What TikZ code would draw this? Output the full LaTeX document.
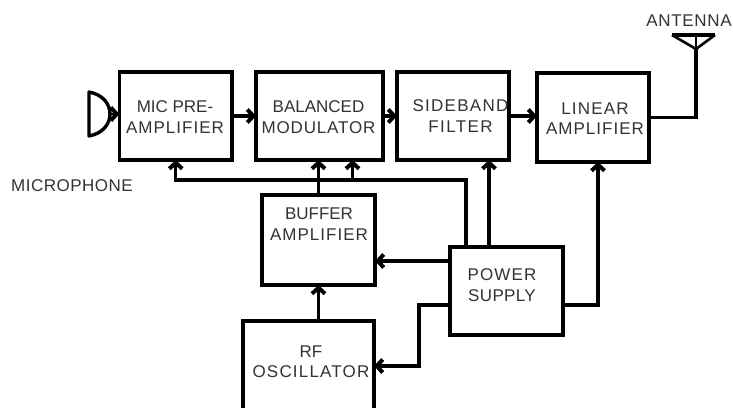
\documentclass[tikz,border=0pt]{standalone}
\usepackage{fontspec}
\setmainfont{Liberation Sans}
\usetikzlibrary{arrows.meta}
\newcommand{\spc}[2]{{\addfontfeature{LetterSpace=#1}#2}}
\tikzset{
  x=1pt,y=-1pt,
  box/.style={draw=black,line width=3.6pt,fill=white,rectangle,outer sep=0pt,inner sep=0pt},
  lbl/.style={inner sep=0pt,align=center,text=black!80,font=\fontsize{17}{20.5}\selectfont},
  wire/.style={draw=black,line width=3.2pt,-{Straight Barb[length=6pt,width=13pt,line width=4pt]}},
  plain/.style={draw=black,line width=3.2pt},
}
\begin{document}
\begin{tikzpicture}
\useasboundingbox (0,0) rectangle (733,407);
\fill[white] (0,0) rectangle (733,407);
% blocks
\node[box,minimum width=112.5pt,minimum height=88pt] (mic) at (175.75,116) {};
\node[box,minimum width=127pt,minimum height=88pt] (bal) at (319.5,116) {};
\node[box,minimum width=112pt,minimum height=88pt] (side) at (453,116) {};
\node[box,minimum width=112pt,minimum height=89pt] (lin) at (593,117.5) {};
\node[box,minimum width=113pt,minimum height=90pt] (buf) at (318.5,240) {};
\node[box,minimum width=131pt,minimum height=100pt] (rf) at (308.5,371) {};
\node[box,minimum width=113pt,minimum height=88pt] (pow) at (506.5,291) {};
% texts
\node[lbl] (micT) at (175,117) {MIC PRE-\\\spc{6}{AMPLIFIER}};
\node[lbl] (balT) at (318.5,117) {BALANCED\\\spc{5}{MODULATOR}};
\node[lbl] (sideT) at (460.5,116) {\spc{7.5}{SIDEBAND}\\\spc{8}{FILTER}};
\node[lbl] (linT) at (595,118.5) {\spc{7}{LINEAR}\\\spc{6}{AMPLIFIER}};
\node[lbl] (bufT) at (319,224) {BUFFER\\\spc{6}{AMPLIFIER}};
\node[lbl] (powT) at (502,285) {\spc{7}{POWER}\\\spc{2}{SUPPLY}};
\node[lbl] (rfT) at (311,361.5) {RF\\\spc{7}{OSCILLATOR}};
\node[lbl] (micL) at (72,186) {\spc{3}{MICROPHONE}};
\node[lbl] (antL) at (689,21) {\spc{4}{ANTENNA}};
% microphone and antenna
\coordinate (micA) at (89,92);
\coordinate (micB) at (89,136);
\coordinate (micF) at (110,114);
\draw[line width=3.4pt,line join=round,line cap=round] (micA) .. controls (117,97) and (117,131) .. (micB) -- cycle;
\draw[wire,line width=2pt] (micF) -- (micF -| mic.west);
\coordinate (antTip) at (696,49);
\coordinate (antL1) at (672,35);
\coordinate (antR1) at (715,35);
\draw[line width=2.6pt,line join=miter] (antL1) -- (antTip) -- (antR1);
\draw[line width=4pt] (antL1) -- (antR1);
\draw[line width=2pt] (antR1 -| antTip) -- (antTip);
% signal path
\draw[wire] (mic.east) -- (bal.west);
\draw[wire] (bal.east) -- (side.west);
\draw[wire] (side.east) -- (side.east -| lin.west);
\draw[plain,line join=miter] (lin.east) -- (lin.east -| antTip) -- (antTip);
\draw[wire] (rf.north -| buf.south) -- (buf.south);
\draw[wire] (buf.north) -- (buf.north |- bal.south);
% power distribution
\coordinate (busR) at (466,180);
\coordinate (busM) at (352.5,180);
\coordinate (pSide) at (489,247);
\coordinate (pLin) at (598,305);
\coordinate (pRf) at (419,305);
\coordinate (pRf2) at (419,366);
\coordinate (pBuf) at (450,261);
\draw[wire] (busR |- pow.north) -- (busR) -- (busR -| mic.south) -- (mic.south);
\draw[wire] (busM) -- (busM |- bal.south);
\draw[wire] (pSide) -- (pSide |- side.south);
\draw[wire] (pow.west |- pLin) -- (pRf) -- (pRf2) -- (pRf2 -| rf.east);
\draw[wire] (pBuf) -- (pBuf -| buf.east);
\draw[wire] (pow.east |- pLin) -- (pLin) -- (pLin |- lin.south);
\end{tikzpicture}
\end{document}
